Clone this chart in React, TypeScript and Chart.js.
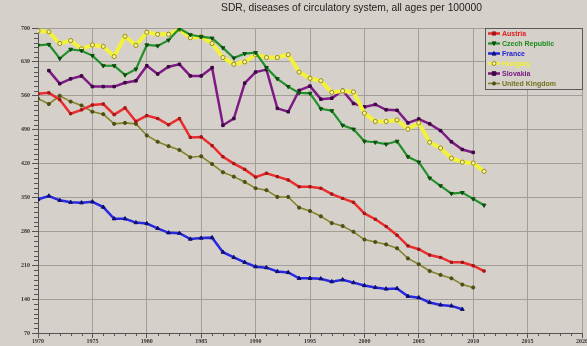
import React, { useEffect, useRef } from "react";
import { Chart, registerables } from "chart.js";

Chart.register(...registerables);

const chartTitle = "SDR, diseases of circulatory system, all ages per 100000";

const years = [
  1970, 1971, 1972, 1973, 1974, 1975, 1976, 1977, 1978, 1979,
  1980, 1981, 1982, 1983, 1984, 1985, 1986, 1987, 1988, 1989,
  1990, 1991, 1992, 1993, 1994, 1995, 1996, 1997, 1998, 1999,
  2000, 2001, 2002, 2003, 2004, 2005, 2006, 2007, 2008, 2009,
  2010, 2011,
];

const austria = [
  564, 566, 552, 523, 531, 541, 543, 521, 535, 507,
  519, 513, 500, 513, 474, 475, 457, 434, 420, 408,
  392, 400, 393, 386, 372, 372, 369, 357, 348, 340,
  317, 305, 290, 272, 250, 243, 231, 226, 216, 216,
  209, 198,
];

const czechRepublic = [
  664, 666, 637, 656, 653, 643, 622, 622, 603, 615,
  665, 663, 675, 699, 686, 682, 679, 659, 638, 647,
  649, 618, 595, 579, 566, 565, 533, 529, 499, 491,
  466, 464, 460, 466, 434, 423, 390, 374, 358, 360,
  347, 334,
];

const france = [
  346, 353, 344, 340, 339, 341, 330, 306, 306, 298,
  296, 286, 277, 276, 264, 266, 267, 237, 226, 216,
  207, 205, 197, 195, 183, 183, 182, 176, 180, 174,
  168, 164, 161, 162, 146, 143, 133, 128, 126, 119,
  null, null,
];

const hungary = [
  694, 692, 668, 674, 657, 665, 662, 641, 683, 664,
  691, 687, 687, 697, 680, 682, 668, 639, 625, 630,
  645, 639, 639, 645, 609, 596, 591, 567, 570, 568,
  524, 507, 507, 510, 491, 504, 464, 452, 431, 423,
  421, 404,
];

const slovakia = [
  null, 612, 585, 595, 601, 579, 579, 579, 587, 591,
  622, 605, 620, 625, 601, 601, 618, 499, 513, 586,
  609, 614, 534, 527, 571, 580, 553, 555, 571, 544,
  537, 542, 531, 530, 504, 512, 502, 488, 465, 449,
  443, null,
];

const unitedKingdom = [
  554, 543, 560, 548, 540, 527, 522, 502, 504, 502,
  478, 465, 456, 448, 433, 435, 419, 402, 393, 382,
  369, 365, 351, 351, 329, 322, 311, 297, 291, 279,
  263, 258, 253, 245, 224, 212, 198, 190, 183, 170,
  164, null,
];

const seriesNames = ["Austria", "Czech Republic", "France", "Hungary", "Slovakia", "United Kingdom"];
const seriesValues = [austria, czechRepublic, france, hungary, slovakia, unitedKingdom];

const BG = "#d5d1ca";
const GRID = "#a29e98";

type Style = {
  line: string;
  text: string;
  pointFill: string;
  pointStroke: string;
  width: number;
  shape: string;
  rotation: number;
  radius: number;
};

const styles: Style[] = [
  { line: "#ea2c2c", text: "#e02020", pointFill: "#a01818", pointStroke: "#a01818", width: 2.5, shape: "rect", rotation: 0, radius: 1.6 },
  { line: "#22902a", text: "#1a8a1a", pointFill: "#0f4f0f", pointStroke: "#0f4f0f", width: 2.2, shape: "triangle", rotation: 180, radius: 2.2 },
  { line: "#2828e0", text: "#2020d8", pointFill: "#10106e", pointStroke: "#10106e", width: 2.5, shape: "triangle", rotation: 0, radius: 2.2 },
  { line: "#f2f23c", text: "#f0f030", pointFill: "#f2f2a8", pointStroke: "#9a8a14", width: 4, shape: "circle", rotation: 0, radius: 2.1 },
  { line: "#7e1a84", text: "#7a1a80", pointFill: "#3e0842", pointStroke: "#3e0842", width: 2.5, shape: "rect", rotation: 0, radius: 1.8 },
  { line: "#84842a", text: "#727220", pointFill: "#4e4e16", pointStroke: "#4e4e16", width: 1.6, shape: "circle", rotation: 0, radius: 1.6 },
];

const yTickValues = [70, 140, 210, 280, 350, 420, 490, 560, 630, 700];
const xTickValues = [1970, 1975, 1980, 1985, 1990, 1995, 2000, 2005, 2010, 2015, 2020];

function drawMarker(ctx: CanvasRenderingContext2D, s: Style, x: number, y: number) {
  ctx.save();
  ctx.fillStyle = s.pointFill;
  ctx.strokeStyle = s.pointStroke;
  ctx.lineWidth = 1;
  const r = s.radius;
  ctx.beginPath();
  if (s.shape === "circle") {
    ctx.arc(x, y, r, 0, Math.PI * 2);
  } else if (s.shape === "rect") {
    ctx.rect(x - r, y - r, 2 * r, 2 * r);
  } else {
    const dir = s.rotation === 180 ? -1 : 1;
    ctx.moveTo(x, y - dir * r);
    ctx.lineTo(x + r, y + dir * r * 0.8);
    ctx.lineTo(x - r, y + dir * r * 0.8);
    ctx.closePath();
  }
  ctx.fill();
  ctx.stroke();
  ctx.restore();
}

const decorPlugin = {
  id: "decor",
  beforeDraw(chart: any) {
    const ctx = chart.ctx as CanvasRenderingContext2D;
    ctx.save();
    ctx.fillStyle = BG;
    ctx.fillRect(0, 0, chart.width, chart.height);
    ctx.restore();
  },
  afterDraw(chart: any) {
    const ctx = chart.ctx as CanvasRenderingContext2D;
    const area = chart.chartArea;
    const xs = chart.scales.x;
    const ys = chart.scales.y;
    ctx.save();
    // minor ticks
    ctx.strokeStyle = "#555";
    ctx.lineWidth = 1;
    ctx.beginPath();
    for (let v = 70; v <= 700; v += 10) {
      if (v % 70 === 0) continue;
      const py = Math.round(ys.getPixelForValue(v)) + 0.5;
      ctx.moveTo(area.left - 4, py);
      ctx.lineTo(area.left, py);
    }
    for (let yr = 1970; yr <= 2020; yr++) {
      if (yr % 5 === 0) continue;
      const px = Math.round(xs.getPixelForValue(yr)) + 0.5;
      ctx.moveTo(px, area.bottom);
      ctx.lineTo(px, area.bottom + 3);
    }
    ctx.stroke();

    // title
    ctx.fillStyle = "#222";
    ctx.font = "10.3px 'Liberation Sans', Arial, sans-serif";
    ctx.textAlign = "center";
    ctx.textBaseline = "alphabetic";
    ctx.fillText(chartTitle, 351.5, 11);

    // legend
    const lx = 485;
    const ly = 28;
    const lw = 97;
    const lh = 61;
    ctx.fillStyle = BG;
    ctx.fillRect(lx, ly, lw, lh);
    ctx.strokeStyle = "#5a5a5a";
    ctx.lineWidth = 1;
    ctx.strokeRect(lx + 0.5, ly + 0.5, lw, lh);
    ctx.font = "bold 7px 'Liberation Sans', Arial, sans-serif";
    ctx.textAlign = "left";
    ctx.textBaseline = "middle";
    seriesNames.forEach((name, i) => {
      const s = styles[i];
      const ry = ly + 5.5 + i * 10;
      ctx.strokeStyle = s.line;
      ctx.lineWidth = Math.min(s.width, 2.5);
      ctx.beginPath();
      ctx.moveTo(lx + 3, ry);
      ctx.lineTo(lx + 15, ry);
      ctx.stroke();
      drawMarker(ctx, { ...s, radius: Math.min(s.radius, 2) }, lx + 9, ry);
      ctx.fillStyle = s.text;
      ctx.fillText(name, lx + 17, ry + 0.5);
    });
    ctx.restore();
  },
};

export default function App() {
  const ref = useRef<HTMLCanvasElement | null>(null);

  useEffect(() => {
    if (!ref.current) return;
    const datasets = seriesNames.map((name, i) => {
      const s = styles[i];
      const vals = seriesValues[i];
      const data = years
        .map((yr, j) => ({ x: yr, y: vals[j] }))
        .filter((p) => p.y !== null && p.y !== undefined);
      return {
        label: name,
        data,
        borderColor: s.line,
        backgroundColor: s.pointFill,
        borderWidth: s.width,
        pointStyle: s.shape,
        rotation: s.rotation,
        pointRadius: s.radius,
        pointBackgroundColor: s.pointFill,
        pointBorderColor: s.pointStroke,
        pointBorderWidth: 1,
        tension: 0,
        fill: false,
      };
    });

    const tickFont = { family: "'Liberation Serif', serif", size: 6, weight: "bold" as const };

    const chart = new Chart(ref.current, {
      type: "line",
      data: { datasets: datasets as any },
      options: {
        animation: false,
        responsive: false,
        devicePixelRatio: 1,
        parsing: false as any,
        layout: { padding: { top: 28, right: 4, left: 0, bottom: 0 } },
        plugins: {
          legend: { display: false },
          title: { display: false },
          tooltip: { enabled: false },
        },
        scales: {
          x: {
            type: "linear",
            min: 1970,
            max: 2020,
            afterFit(scale: any) {
              scale.height = 13;
              scale.paddingLeft = 0;
              scale.paddingRight = 0;
            },
            afterBuildTicks(scale: any) {
              scale.ticks = xTickValues.map((v) => ({ value: v }));
            },
            ticks: {
              autoSkip: false,
              maxRotation: 0,
              font: tickFont,
              color: "#333",
              padding: 0,
              callback: (v: any) => String(v),
            },
            grid: { color: GRID, lineWidth: 1, tickLength: 5, tickColor: "#555" },
            border: { display: true, color: "#555", width: 1 },
          },
          y: {
            type: "linear",
            min: 70,
            max: 700,
            afterFit(scale: any) {
              scale.width = 38;
              scale.paddingTop = 0;
              scale.paddingBottom = 0;
            },
            afterBuildTicks(scale: any) {
              scale.ticks = yTickValues.map((v) => ({ value: v }));
            },
            ticks: {
              font: tickFont,
              color: "#333",
              padding: 2,
              callback: (v: any) => String(v),
            },
            grid: { color: GRID, lineWidth: 1, tickLength: 6, tickColor: "#555" },
            border: { display: true, color: "#555", width: 1 },
          },
        },
      },
      plugins: [decorPlugin],
    });
    return () => chart.destroy();
  }, []);

  return (
    <div style={{ position: "fixed", left: 0, top: 0, width: 587, height: 346, background: BG }}>
      <canvas ref={ref} width={587} height={346} style={{ width: 587, height: 346, display: "block" }} />
    </div>
  );
}
